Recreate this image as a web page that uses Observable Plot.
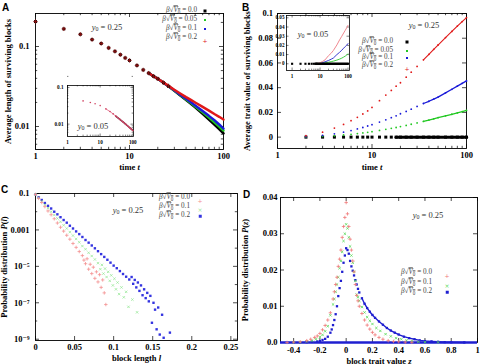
<!DOCTYPE html>
<html><head><meta charset="utf-8">
<script src="https://cdn.jsdelivr.net/npm/d3@7"></script>
<script src="https://cdn.jsdelivr.net/npm/@observablehq/plot@0.6"></script>
<style>
html,body{margin:0;padding:0;background:#fff;}
#fig{position:relative;width:480px;height:364px;overflow:hidden;background:#fff;font-family:"Liberation Serif","DejaVu Serif",serif;}
.t{position:absolute;white-space:nowrap;line-height:1;}
.letter{font-family:"Liberation Sans",Arial,sans-serif;font-weight:bold;font-size:10px;color:#000;}
.y0{font-size:8.5px;color:#333;transform:translate(-50%,-50%);}
.leg{font-size:7.2px;color:#444;transform:translate(-100%,-50%);}
.mk{position:absolute;transform:translate(-50%,-50%);line-height:1;}
.ov{text-decoration:overline;}
sub{font-size:70%;vertical-align:-0.25em;line-height:0;}
</style></head><body><div id="fig"></div>
<script>
// ---------------- Panel A : average length of surviving blocks ----------------
const tA = [1,2,3,4,5,6,7,8,9,10,12,14,16,18,20,23,26,30,35,40,45,50,60,70,80,90,100];
const lenA_b000 = [0.205,0.166,0.142,0.122,0.109,0.096,0.087,0.079,0.072,0.067,0.058,0.051,0.0465,0.0425,0.0395,0.0352,0.0318,0.0280,0.0243,0.0215,0.0193,0.0174,0.0144,0.0122,0.0106,0.0093,0.0082];
const lenA_b005 = [0.205,0.166,0.142,0.122,0.109,0.096,0.087,0.079,0.072,0.067,0.058,0.051,0.0465,0.0425,0.0395,0.0352,0.0318,0.0281,0.0245,0.0218,0.0196,0.0178,0.0150,0.0129,0.0113,0.0100,0.0089];
const lenA_b010 = [0.205,0.166,0.142,0.122,0.109,0.096,0.087,0.079,0.072,0.067,0.058,0.051,0.0465,0.0425,0.0395,0.0352,0.0318,0.0283,0.0248,0.0222,0.0201,0.0183,0.0156,0.0136,0.0120,0.0106,0.0094];
const lenA_b020 = [0.205,0.166,0.142,0.122,0.109,0.096,0.087,0.079,0.072,0.067,0.058,0.051,0.0465,0.0425,0.0395,0.0354,0.0322,0.0288,0.0257,0.0233,0.0215,0.0200,0.0176,0.0158,0.0143,0.0132,0.0122];
// inset A (y0 = 0.05)
const tAin = [3,5,7,10,15,20,25,30,40,50,60,70,80,90,100];
const lenAin = [0.043,0.039,0.036,0.032,0.026,0.022,0.019,0.0165,0.0135,0.0115,0.0100,0.0089,0.0080,0.0073,0.0067];

// ---------------- Panel B : average trait value of surviving blocks ----------------
const tB = [2,3,4,5,6,7,8,9,10,12,14,16,18,20,23,26,30,35,40,45,50,60,70,80,90,100];
const trB_b000 = [0,0,0,0,0,0,0,0,0,0,0,0,0,0,0,0,0,0,0,0,0,0,0,0,0,0];
const trB_b005 = [0.0002,0.0006,0.0011,0.0017,0.0023,0.0029,0.0034,0.0039,0.0044,0.0054,0.0063,0.0071,0.0078,0.0085,0.0095,0.0104,0.0115,0.0127,0.0138,0.0148,0.0157,0.0172,0.0185,0.0196,0.0206,0.0216];
const trB_b010 = [0.0004,0.0014,0.0027,0.0040,0.0053,0.0066,0.0078,0.0090,0.0101,0.0122,0.0140,0.0157,0.0172,0.0189,0.0208,0.0226,0.0248,0.0272,0.0290,0.0308,0.0324,0.0358,0.0387,0.0413,0.0435,0.0455];
const trB_b020 = [0.0011,0.0040,0.0073,0.0103,0.0133,0.0160,0.0187,0.0212,0.0240,0.0295,0.0340,0.0378,0.0412,0.0440,0.0485,0.0525,0.0572,0.0625,0.0670,0.0710,0.0745,0.0805,0.0855,0.0898,0.0935,0.0967];
// inset B (y0 = 0.05)
const tBin0 = [1,2,3,4,5,6,7,8,10,12,15,20,25,30,40,50,60,70,80,90,100];
const trBin_b000 = [0,0,0,0,0,0,0,0,0,0,0,0,0,0,0,0,0,0,0,0,0];
const tBin = [8,10,12,15,20,25,30,40,50,60,70,80,90,100];
const trBin_b005 = [0,0.0003,0.0006,0.0010,0.0017,0.0023,0.0029,0.0040,0.0051,0.0062,0.0073,0.0084,0.0096,0.0108];
const trBin_b010 = [0,0.0006,0.0012,0.0021,0.0036,0.0050,0.0063,0.0100,0.0125,0.0148,0.0170,0.0188,0.0203,0.0220];
const trBin_b020 = [0,0.0012,0.0024,0.0042,0.0088,0.0115,0.0145,0.0205,0.0260,0.0300,0.0335,0.0365,0.0392,0.0418];

// ---------------- Panel C : block length distribution ----------------
const lC_b00 = [0,0.004,0.008,0.012,0.016,0.020,0.024,0.028,0.032,0.036,0.040,0.044,0.048,0.052,0.056,0.060,0.062,0.064,0.066,0.068,0.070,0.072,0.074,0.076,0.078,0.080,0.082,0.084,0.086,0.088,0.090];
const pC_b00 = [8.9e-2,5.4e-2,3.2e-2,1.9e-2,1.1e-2,6.8e-3,4.1e-3,2.4e-3,1.4e-3,8.6e-4,5.1e-4,3.1e-4,1.8e-4,1.1e-4,6.5e-5,3.9e-5,2.2e-5,1.4e-5,2.6e-5,7e-6,1.3e-5,4e-6,9e-6,2.2e-6,5e-6,1.4e-6,3.5e-6,7e-7,1.8e-6,3.5e-7,8e-8];
const lC_b01 = [0,0.004,0.008,0.012,0.016,0.020,0.024,0.028,0.032,0.036,0.040,0.044,0.048,0.052,0.056,0.060,0.064,0.068,0.072,0.076,0.080,0.083,0.085,0.087,0.089,0.091,0.093,0.095,0.097,0.099,0.101,0.103,0.105,0.107,0.110,0.113,0.116,0.119,0.124,0.130];
const pC_b01 = [8.9e-2,5.8e-2,3.7e-2,2.4e-2,1.6e-2,1.0e-2,6.6e-3,4.3e-3,2.8e-3,1.8e-3,1.2e-3,7.6e-4,4.9e-4,3.2e-4,2.1e-4,1.3e-4,8.7e-5,5.6e-5,3.7e-5,2.4e-5,1.5e-5,7e-6,1.2e-5,4e-6,7.5e-6,2.6e-6,5e-6,1.6e-6,3.2e-6,9e-7,2.1e-6,5.5e-7,1.3e-6,3e-7,7e-7,2e-7,4e-7,6e-8,1.5e-7,3e-8];
const lC_b02 = [0,0.004,0.008,0.012,0.016,0.020,0.024,0.028,0.032,0.036,0.040,0.044,0.048,0.052,0.056,0.060,0.064,0.068,0.072,0.076,0.080,0.084,0.088,0.092,0.096,0.100,0.104,0.108,0.112,0.116,0.120,0.123,0.125,0.127,0.129,0.131,0.133,0.135,0.137,0.139,0.141,0.143,0.145,0.147,0.149,0.151,0.153,0.155,0.157,0.159,0.162,0.164,0.172];
const pC_b02 = [8.9e-2,6.2e-2,4.4e-2,3.0e-2,2.1e-2,1.5e-2,1.0e-2,7.2e-3,5.0e-3,3.5e-3,2.5e-3,1.7e-3,1.2e-3,8.3e-4,5.9e-4,4.1e-4,2.8e-4,2.0e-4,1.4e-4,9.8e-5,6.8e-5,4.7e-5,3.3e-5,2.3e-5,1.6e-5,1.1e-5,7.9e-6,5.5e-6,3.8e-6,2.7e-6,1.9e-6,2.6e-6,1.1e-6,1.8e-6,7e-7,1.3e-6,4.5e-7,9e-7,2.6e-7,5.5e-7,1.8e-7,3.5e-7,1.2e-7,2.4e-7,8e-9,1e-7,4.2e-8,3.5e-9,5.5e-8,1.8e-9,2.2e-8,1.2e-9,2.3e-9];

// ---------------- Panel D : block trait value distribution ----------------
const zD_b00 = [-0.45,-0.40,-0.35,-0.30,-0.27,-0.24,-0.22,-0.20,-0.18,-0.16,-0.14,-0.12,-0.10,-0.09,-0.08,-0.07,-0.06,-0.05,-0.04,-0.03,-0.02,-0.01,0.00,0.01,0.02,0.03,0.04,0.05,0.06,0.07,0.08,0.09,0.10,0.12,0.14,0.16,0.18,0.20,0.22,0.25,0.28,0.32,0.36,0.40,0.45,0.50];
const pD_b00 = [0.00002,0.0001,0.0002,0.0005,0.0009,0.0014,0.0018,0.0025,0.0035,0.0047,0.0062,0.0082,0.0120,0.0140,0.0160,0.0180,0.0210,0.0230,0.0255,0.0290,0.0320,0.0345,0.0386,0.0355,0.0320,0.0285,0.0255,0.0225,0.0195,0.0160,0.0130,0.0115,0.0100,0.0080,0.0062,0.0048,0.0037,0.0028,0.0021,0.0014,0.0009,0.0005,0.0003,0.0002,0.0001,0.00005];
const zD_b01 = [-0.40,-0.35,-0.30,-0.26,-0.23,-0.20,-0.18,-0.16,-0.14,-0.12,-0.10,-0.09,-0.08,-0.07,-0.06,-0.05,-0.04,-0.03,-0.02,-0.01,0.00,0.01,0.02,0.03,0.04,0.05,0.06,0.07,0.08,0.09,0.10,0.12,0.14,0.16,0.18,0.20,0.23,0.26,0.30,0.34,0.38,0.42,0.46,0.50,0.55,0.60,0.70];
const pD_b01 = [0.00005,0.0001,0.0003,0.0005,0.0009,0.0015,0.0021,0.0031,0.0045,0.0075,0.0105,0.0120,0.0140,0.0160,0.0180,0.0205,0.0225,0.0250,0.0280,0.0300,0.0326,0.0315,0.0290,0.0265,0.0240,0.0220,0.0195,0.0170,0.0132,0.0125,0.0115,0.0098,0.0083,0.0070,0.0060,0.0051,0.0040,0.0032,0.0023,0.0017,0.0012,0.0009,0.0006,0.0004,0.0002,0.0001,0.00004];
const zD_b02 = [-0.40,-0.35,-0.30,-0.26,-0.22,-0.20,-0.18,-0.16,-0.14,-0.12,-0.11,-0.10,-0.09,-0.08,-0.07,-0.06,-0.05,-0.04,-0.03,-0.02,-0.01,0.00,0.01,0.02,0.03,0.04,0.05,0.06,0.07,0.08,0.09,0.10,0.12,0.14,0.16,0.18,0.20,0.22,0.25,0.28,0.31,0.34,0.37,0.40,0.44,0.48,0.52,0.56,0.60,0.65,0.70,0.75,0.80,0.90];
const pD_b02 = [0.00001,0.00003,0.0001,0.0002,0.0003,0.0004,0.0007,0.0010,0.0016,0.0027,0.0036,0.0048,0.0062,0.0078,0.0100,0.0128,0.0150,0.0170,0.0195,0.0220,0.0240,0.0260,0.0255,0.0245,0.0225,0.0210,0.0198,0.0185,0.0172,0.0160,0.0148,0.0138,0.0122,0.0107,0.0095,0.0085,0.0076,0.0068,0.0058,0.0049,0.0040,0.0033,0.0027,0.0022,0.0016,0.0012,0.0009,0.0006,0.0004,0.0003,0.0002,0.0001,0.00005,0.00002];
const dBaseline = [0];

// ---------------- ticks & labels ----------------
const ticksLogT = [1,10,100], ticksLogTLab = ["1","10","100"];
const minorLogT = [2,3,4,5,6,7,8,9,20,30,40,50,60,70,80,90];
const ticksA_y = [0.01,0.1], ticksA_yLab = ["0.01","0.1"];
const minorA_y = [0.006,0.007,0.008,0.009,0.02,0.03,0.04,0.05,0.06,0.07,0.08,0.09,0.2];
const ticksB_y = [0,0.02,0.04,0.06,0.08,0.1], ticksB_yLab = ["0","0.02","0.04","0.06","0.08","0.1"];
const ticksBin_y = [0,0.01,0.02,0.03,0.04,0.05], ticksBin_yLab = ["0","0.01","0.02","0.03","0.04","0.05"];
const ticksC_x = [0,0.05,0.1,0.15,0.2,0.25], ticksC_xLab = ["0","0.05","0.1","0.15","0.2","0.25"];
const ticksC_y = [1e-1,1e-3,1e-5,1e-7,1e-9], ticksC_yLab = ["0.1","0.001","10\u207B\u2075","10\u207B\u2077","10\u207B\u2079"];
const minorC_y = [1e-2,1e-4,1e-6,1e-8];
const ticksD_x = [-0.4,-0.2,0,0.2,0.4,0.6,0.8,1], ticksD_xLab = ["-0.4","-0.2","0","0.2","0.4","0.6","0.8","1"];
const ticksD_y = [0,0.01,0.02,0.03,0.04], ticksD_yLab = ["0.0","0.01","0.02","0.03","0.04"];
const betaAB = ["0.0","0.05","0.1","0.2"];
const betaCD = ["0.0","0.1","0.2"];

// ---------------- helpers ----------------
const FONT = '"Liberation Serif","DejaVu Serif",serif';
const fig = document.getElementById("fig");
const rows = (xs, ys) => xs.map((x, i) => ({x, y: ys[i]}));
function put(node, left, top) { node.style.position = "absolute"; node.style.left = left + "px"; node.style.top = top + "px"; fig.appendChild(node); return node; }
function addText(html, x, y, cls) { const d = document.createElement("div"); d.className = "t " + cls; d.innerHTML = html; d.style.left = x + "px"; d.style.top = y + "px"; fig.appendChild(d); return d; }
function box(o) {
  const fw = o.W - o.ml - o.mr, fh = o.H - o.mt - o.mb;
  const m = [];
  const sw = o.sw ?? 0.7;
  const addX = (arr, s) => m.push(
    Plot.tickX(arr, {x: d => d, insetTop: fh - s, stroke: "#000", strokeWidth: sw}),
    Plot.tickX(arr, {x: d => d, insetBottom: fh - s, stroke: "#000", strokeWidth: sw}));
  const addY = (arr, s) => m.push(
    Plot.tickY(arr, {y: d => d, insetRight: fw - s, stroke: "#000", strokeWidth: sw}),
    Plot.tickY(arr, {y: d => d, insetLeft: fw - s, stroke: "#000", strokeWidth: sw}));
  addX(o.xt, o.ts); if (o.xm) addX(o.xm, o.ts * 0.55);
  addY(o.yt, o.ts); if (o.ym) addY(o.ym, o.ts * 0.55);
  m.push(Plot.axisX(o.xt, {anchor: "bottom", tickSize: 0, tickPadding: o.xPad, tickFormat: d => o.xl[o.xt.indexOf(d)],
    label: o.xLabel ?? null, labelAnchor: "center", labelOffset: o.xLO, labelArrow: "none"}));
  m.push(Plot.axisY(o.yt, {anchor: "left", tickSize: 0, tickPadding: o.yPad, tickFormat: d => o.yl[o.yt.indexOf(d)],
    label: o.yLabel ?? null, labelAnchor: "center", labelOffset: o.yLO, labelArrow: "none"}));
  m.push(Plot.frame({stroke: "#000", strokeWidth: o.fsw ?? 0.9}));
  return m;
}
function italicize(svg, map) {
  svg.querySelectorAll("text").forEach(t => { if (map[t.textContent]) t.innerHTML = map[t.textContent]; });
}
const style = (fs) => ({fontFamily: FONT, fontSize: fs + "px", fontWeight: "bold", background: "transparent", overflow: "visible", color: "#000"});
const IT = s => `<tspan font-style="italic">${s}</tspan>`;
const betaHTML = v => `<i>β</i>√<span class="ov"><i>V</i><sub>0</sub></span> = ${v}`;
function legend(labels, xRight, ys, markX, markers) {
  labels.forEach((lab, i) => {
    addText(betaHTML(lab), xRight, ys[i], "leg");
    const mk = document.createElement("div"); mk.className = "mk"; mk.innerHTML = markers[i];
    mk.style.left = markX + "px"; mk.style.top = ys[i] + "px"; fig.appendChild(mk);
  });
}
const sq = (c, s) => `<div style="width:${s}px;height:${s}px;background:${c}"></div>`;
const ch = (c, g, fs) => `<span style="color:${c};font-size:${fs}px;font-family:'DejaVu Sans';">${g}</span>`;

const K = "#000", G = "#22c822", B = "#1a1ad8", R = "#e01818";
const cR = "#f49090", cG = "#9ae89a", cB = "#3434e0";

// ---------------- Panel A ----------------
{
  const o = {W: 240, H: 182, ml: 35, mr: 17, mt: 13, mb: 33, xt: ticksLogT, xl: ticksLogTLab, xm: minorLogT,
    yt: ticksA_y, yl: ticksA_yLab, ym: minorA_y, ts: 4, xPad: 3.5, yPad: 6,
    xLabel: "time t", xLO: 20, yLabel: "Average length of surviving blocks", yLO: 31};
  const s0 = rows(tA, lenA_b000), s1 = rows(tA, lenA_b005), s2 = rows(tA, lenA_b010), s3 = rows(tA, lenA_b020);
  const late = d => d.x >= 16;
  const p = Plot.plot({width: o.W, height: o.H, marginLeft: o.ml, marginRight: o.mr, marginTop: o.mt, marginBottom: o.mb,
    x: {type: "log", domain: [1, 100]}, y: {type: "log", domain: [0.00516, 0.2585]}, style: style(8.5),
    marks: [...box(o),
      Plot.line(s0.filter(late), {x: "x", y: "y", stroke: K, strokeWidth: 2.6}),
      Plot.line(s1.filter(late), {x: "x", y: "y", stroke: G, strokeWidth: 2.4}),
      Plot.line(s2.filter(late), {x: "x", y: "y", stroke: B, strokeWidth: 2.4}),
      Plot.line(s3.filter(late), {x: "x", y: "y", stroke: R, strokeWidth: 2.4}),
      Plot.dot(s0.filter(d => d.x < 30), {x: "x", y: "y", symbol: "square", r: 1.7, fill: "#2a0606"}),
      Plot.dot(s3.filter(d => d.x < 30), {x: "x", y: "y", symbol: "plus", r: 1.5, stroke: "#8a1010", strokeWidth: 0.9})
    ]});
  italicize(p, {"time t": "time " + IT("t")});
  put(p, 0, 0);
  // inset
  const oi = {W: 90, H: 70, ml: 17, mr: 7, mt: 5, mb: 14, xt: ticksLogT, xl: ticksLogTLab, xm: minorLogT,
    yt: ticksA_y, yl: ticksA_yLab, ym: minorA_y, ts: 2.5, xPad: 4, yPad: 4, sw: 0.5, fsw: 0.8};
  const si = rows(tAin, lenAin);
  const pi = Plot.plot({width: oi.W, height: oi.H, marginLeft: oi.ml, marginRight: oi.mr, marginTop: oi.mt, marginBottom: oi.mb,
    x: {type: "log", domain: [1, 105]}, y: {type: "log", domain: [0.0046, 0.113]}, style: style(5.2),
    marks: [...box(oi),
      Plot.line(si.filter(d => d.x >= 30), {x: "x", y: "y", stroke: "#7a1830", strokeWidth: 1.6}),
      Plot.line(si.filter(d => d.x >= 15), {x: "x", y: "y", stroke: "#e06080", strokeWidth: 0.8}),
      Plot.dot(si, {x: "x", y: "y", r: 0.8, fill: "#d04060"})
    ]});
  put(pi, 50, 80);
  addText(`<i>y</i><sub>0</sub> = 0.25`, 107, 27, "y0");
  addText(`<i>y</i><sub>0</sub> = 0.05`, 93, 126, "y0");
  legend(betaAB, 197, [10.5, 19.5, 28.5, 37.5], 205,
    [sq(K, 3), sq(G, 2), sq(B, 2), ch(R, "+", 6)]);
  addText("A", 2, 3, "letter");
}

// ---------------- Panel B ----------------
{
  const o = {W: 240, H: 182, ml: 37, mr: 14, mt: 13, mb: 34, xt: ticksLogT, xl: ticksLogTLab, xm: minorLogT,
    yt: ticksB_y, yl: ticksB_yLab, ts: 4, xPad: 3.5, yPad: 4.5,
    xLabel: "time t", xLO: 21, yLabel: "Average trait value of surviving blocks", yLO: 34};
  const s0 = rows(tB, trB_b000), s1 = rows(tB, trB_b005), s2 = rows(tB, trB_b010), s3 = rows(tB, trB_b020);
  const late = d => d.x >= 35;
  const p = Plot.plot({width: o.W, height: o.H, marginLeft: o.ml, marginRight: o.mr, marginTop: o.mt, marginBottom: o.mb,
    x: {type: "log", domain: [1, 100]}, y: {domain: [-0.0092, 0.1]}, style: style(8.5),
    marks: [...box(o),
      Plot.line(s0.filter(d => d.x >= 18), {x: "x", y: "y", stroke: K, strokeWidth: 3}),
      Plot.dot(s0, {x: "x", y: "y", symbol: "square", r: 1.7, fill: K}),
      Plot.line(s1.filter(late), {x: "x", y: "y", stroke: G, strokeWidth: 1.3}),
      Plot.line(s2.filter(late), {x: "x", y: "y", stroke: B, strokeWidth: 1.3}),
      Plot.line(s3.filter(late), {x: "x", y: "y", stroke: R, strokeWidth: 1.1}),
      Plot.dot(s1, {x: "x", y: "y", r: 0.9, fill: G}),
      Plot.dot(s2, {x: "x", y: "y", r: 0.9, fill: B}),
      Plot.dot(s3, {x: "x", y: "y", r: 0.9, fill: R})
    ]});
  italicize(p, {"time t": "time " + IT("t")});
  put(p, 240, 0);
  // inset
  const oi = {W: 92, H: 75, ml: 24, mr: 5, mt: 5, mb: 15, xt: ticksLogT, xl: ticksLogTLab, xm: minorLogT,
    yt: ticksBin_y, yl: ticksBin_yLab, ts: 2.5, xPad: 4, yPad: 2, sw: 0.5, fsw: 0.8};
  const b0 = rows(tBin0, trBin_b000), b1 = rows(tBin, trBin_b005), b2 = rows(tBin, trBin_b010), b3 = rows(tBin, trBin_b020);
  const pi = Plot.plot({width: oi.W, height: oi.H, marginLeft: oi.ml, marginRight: oi.mr, marginTop: oi.mt, marginBottom: oi.mb,
    x: {type: "log", domain: [0.63, 113]}, y: {domain: [-0.0073, 0.0525]}, style: style(5.2),
    marks: [...box(oi),
      Plot.line(b1, {x: "x", y: "y", stroke: "#44d044", strokeWidth: 1}),
      Plot.line(b2, {x: "x", y: "y", stroke: "#3a3ad0", strokeWidth: 1}),
      Plot.line(b3, {x: "x", y: "y", stroke: "#f08890", strokeWidth: 1}),
      Plot.line(b0.filter(d => d.x >= 7), {x: "x", y: "y", stroke: K, strokeWidth: 2.4}),
      Plot.dot(b0.filter(d => d.x <= 8), {x: "x", y: "y", symbol: "square", r: 1.2, fill: K})
    ]});
  put(pi, 262, 10);
  addText(`<i>y</i><sub>0</sub> = 0.25`, 424, 25, "y0");
  addText(`<i>y</i><sub>0</sub> = 0.05`, 313, 34, "y0");
  legend(betaAB, 393, [42.3, 50.6, 58.4, 66.2], 407,
    [sq(K, 3), sq(G, 2), sq(B, 2), ch(R, "+", 6)]);
  addText("B", 242, 3, "letter");
}

// ---------------- Panel C ----------------
{
  const o = {W: 240, H: 182, ml: 35, mr: 3, mt: 11, mb: 24, xt: ticksC_x, xl: ticksC_xLab,
    yt: ticksC_y, yl: ticksC_yLab, ym: minorC_y, ts: 4, xPad: 3, yPad: 6,
    xLabel: "block length l", xLO: 20, yLabel: "Probability distribution P(l)", yLO: 35};
  const c0 = rows(lC_b00, pC_b00), c1 = rows(lC_b01, pC_b01), c2 = rows(lC_b02, pC_b02);
  const p = Plot.plot({width: o.W, height: o.H, marginLeft: o.ml, marginRight: o.mr, marginTop: o.mt, marginBottom: o.mb,
    x: {domain: [0, 0.2585]}, y: {type: "log", domain: [8.5e-10, 0.1]}, style: style(8.5),
    marks: [...box(o),
      Plot.dot(c2, {x: "x", y: "y", symbol: "square", r: 1.35, fill: cB}),
      Plot.dot(c1, {x: "x", y: "y", symbol: "times", r: 1.2, stroke: cG, strokeWidth: 0.8}),
      Plot.dot(c0, {x: "x", y: "y", symbol: "plus", r: 1.2, stroke: cR, strokeWidth: 0.8})
    ]});
  italicize(p, {"block length l": "block length " + IT("l"), "Probability distribution P(l)": "Probability distribution " + IT("P") + "(" + IT("l") + ")"});
  put(p, 0, 182);
  addText(`<i>y</i><sub>0</sub> = 0.25`, 128, 210, "y0");
  legend(betaCD, 190, [197.5, 207, 216.3], 200,
    [ch(cR, "+", 6), ch(cG, "×", 6), sq(cB, 2.5)]);
  addText("C", 1, 185, "letter");
}

// ---------------- Panel D ----------------
{
  const o = {W: 240, H: 182, ml: 40, mr: 3, mt: 15, mb: 22, xt: ticksD_x, xl: ticksD_xLab,
    yt: ticksD_y, yl: ticksD_yLab, ts: 4, xPad: 4, yPad: 3,
    xLabel: "block trait value z", xLO: 21, yLabel: "Probability distribution P(z)", yLO: 39};
  const d0 = rows(zD_b00, pD_b00), d1 = rows(zD_b01, pD_b01), d2 = rows(zD_b02, pD_b02);
  const p = Plot.plot({width: o.W, height: o.H, marginLeft: o.ml, marginRight: o.mr, marginTop: o.mt, marginBottom: o.mb,
    x: {domain: [-0.5, 1]}, y: {domain: [0, 0.04]}, style: style(8.5),
    marks: [...box(o),
      Plot.ruleY(dBaseline, {stroke: "#1f1fd0", strokeWidth: 2.4}),
      Plot.line(d2.filter(d => d.x >= 0.12), {x: "x", y: "y", stroke: "#1f1fd0", strokeWidth: 1.4}),
      Plot.dot(d2, {x: "x", y: "y", symbol: "square", r: 1.3, fill: "#1f1fd0"}),
      Plot.dot(d1, {x: "x", y: "y", symbol: "times", r: 1.2, stroke: "#5ada5a", strokeWidth: 0.8}),
      Plot.dot(d0, {x: "x", y: "y", symbol: "plus", r: 1.2, stroke: "#f07878", strokeWidth: 0.8})
    ]});
  italicize(p, {"block trait value z": "block trait value " + IT("z"), "Probability distribution P(z)": "Probability distribution " + IT("P") + "(" + IT("z") + ")"});
  put(p, 240, 182);
  addText(`<i>y</i><sub>0</sub> = 0.25`, 428, 215, "y0");
  legend(betaCD, 432, [273, 282.5, 292], 447,
    [ch("#f07878", "+", 6), ch("#5ada5a", "×", 6), sq("#1f1fd0", 2.5)]);
  addText("D", 243, 190, "letter");
}
</script></body></html>
